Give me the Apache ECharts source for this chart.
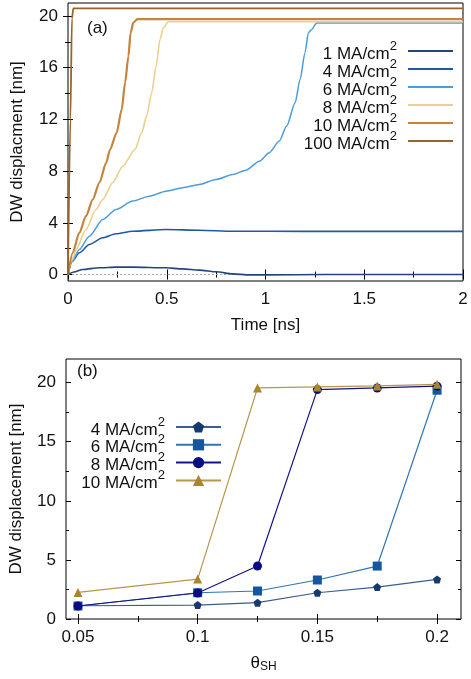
<!DOCTYPE html>
<html>
<head>
<meta charset="utf-8">
<script src="https://cdn.jsdelivr.net/npm/echarts@6/dist/echarts.min.js"></script>
<style>
  html, body { margin: 0; padding: 0; background: #fff; }
  #chart { width: 471px; height: 679px; }
</style>
</head>
<body>
<div id="chart"></div>
<script>
// ---- (a) DW displacement vs time for several current densities ----
const baseT = [0, 2];
const baseV = [0, 0];

const t1 = [0, 0.03, 0.074, 0.159, 0.243, 0.328, 0.496, 0.58, 0.665, 0.749, 0.834, 0.918, 1.0, 1.3, 2];
const v1 = [0, 0.2, 0.39, 0.52, 0.57, 0.57, 0.52, 0.44, 0.34, 0.21, 0.05, -0.03, -0.03, 0, 0];

const t4 = [0, 0.02, 0.057, 0.108, 0.176, 0.243, 0.328, 0.496, 0.665, 0.834, 1.2, 2];
const v4 = [0, 1.0, 1.68, 2.32, 2.84, 3.15, 3.35, 3.48, 3.43, 3.35, 3.34, 3.34];

const t6 = [0, 0.02, 0.057, 0.108, 0.176, 0.243, 0.328, 0.412, 0.496, 0.581, 0.665, 0.749, 0.834, 0.901, 0.969, 1.019, 1.07, 1.107, 1.15, 1.175, 1.2, 1.217, 1.234, 1.259, 2];
const v6 = [0, 1.0, 1.93, 2.97, 4.26, 5.03, 5.68, 6.06, 6.45, 6.71, 6.97, 7.35, 7.74, 8.07, 8.77, 9.42, 10.32, 11.48, 13.28, 15.09, 17.16, 18.7, 18.96, 19.45, 19.45];

const t8 = [0, 0.02, 0.041, 0.091, 0.142, 0.176, 0.226, 0.277, 0.339, 0.373, 0.398, 0.424, 0.446, 0.466, 0.483, 0.508, 2];
const v8 = [0, 1.1, 1.93, 3.48, 5.03, 5.8, 7.1, 8.38, 9.67, 10.96, 12.25, 14.06, 16.12, 18.19, 19.1, 19.55, 19.55];

const t10 = [0, 0.024, 0.057, 0.091, 0.125, 0.159, 0.193, 0.213, 0.246, 0.272, 0.289, 0.306, 0.317, 0.331, 0.351, 2];
const v10 = [0, 1.68, 3.22, 4.51, 5.8, 7.1, 8.64, 9.67, 10.96, 12.77, 14.84, 16.9, 18.7, 19.48, 19.75, 19.75];

const t100 = [0, 0.012, 0.02, 0.027, 2];
const v100 = [0, 12, 19.8, 20.58, 20.58];

const timeTicks = [0, 0.5, 1, 1.5, 2];
const timeMinor = [0.25, 0.75, 1.25, 1.75];
const dispTicksA = [0, 4, 8, 12, 16, 20];
const dispMinorA = [2, 6, 10, 14, 18];

// ---- (b) DW displacement vs spin Hall angle ----
const theta = [0.05, 0.1, 0.125, 0.15, 0.175, 0.2];
const b4 = [1.12, 1.18, 1.38, 2.22, 2.7, 3.35];
const b6 = [1.1, 2.22, 2.37, 3.3, 4.48, 19.36];
const b8 = [1.1, 2.2, 4.48, 19.41, 19.55, 19.7];
const b10 = [2.25, 3.38, 19.55, 19.64, 19.72, 19.86];

const thetaTicks = [0.05, 0.1, 0.15, 0.2];
const thetaMinor = [0.075, 0.125, 0.175];
const dispTicksB = [0, 5, 10, 15, 20];
const dispMinorB = [2.5, 7.5, 12.5, 17.5];

const FONT = "'Liberation Sans', Arial, Helvetica, sans-serif";
const INK = '#111';
const FS = 17;

function zip(a, b) { return a.map((x, i) => [x, b[i]]); }

// main axis with labels + major ticks, same side minor ticks, mirrored ticks opposite
function axisSet(grid, sides, min, max, major, minor, extra) {
  const tickMajor = (vals) => ({ show: true, inside: true, length: 5, customValues: vals, lineStyle: { color: '#000', width: 1 } });
  const tickMinor = (vals) => ({ show: true, inside: true, length: 3, customValues: vals, lineStyle: { color: '#000', width: 1 } });
  const common = { type: 'value', gridIndex: grid, min: min, max: max, splitLine: { show: false }, axisLine: { show: false } };
  return [
    Object.assign({}, common, {
      position: sides[0],
      axisTick: tickMajor(major),
      axisLabel: { show: true, customValues: major, margin: 10, fontFamily: FONT, fontSize: FS, color: INK }
    }, extra || {}),
    Object.assign({}, common, { position: sides[0], axisTick: tickMinor(minor), axisLabel: { show: false } }),
    Object.assign({}, common, { position: sides[1], axisTick: tickMajor(major), axisLabel: { show: false } }),
    Object.assign({}, common, { position: sides[1], axisTick: tickMinor(minor), axisLabel: { show: false } })
  ];
}

const nameStyle = { fontFamily: FONT, fontSize: FS, color: INK };

const xAxes = [].concat(
  axisSet(0, ['bottom', 'top'], 0, 2, timeTicks, timeMinor, {
    name: 'Time [ns]', nameLocation: 'middle', nameGap: 36, nameTextStyle: nameStyle
  }),
  axisSet(1, ['bottom', 'top'], 0.045, 0.21, thetaTicks, thetaMinor, {
    name: '{t|θ}{s|SH}', nameLocation: 'middle', nameGap: 36,
    nameTextStyle: Object.assign({}, nameStyle, {
      rich: {
        t: { fontFamily: FONT, fontSize: FS, color: INK, lineHeight: 18, verticalAlign: 'top' },
        s: { fontFamily: FONT, fontSize: 12, color: INK, lineHeight: 12, verticalAlign: 'bottom', padding: [7, 0, 0, 0] }
      }
    })
  })
);

const yAxes = [].concat(
  axisSet(0, ['left', 'right'], -0.5, 21, dispTicksA, dispMinorA, {
    name: 'DW displacment [nm]', nameLocation: 'middle', nameGap: 42, nameTextStyle: nameStyle
  }),
  axisSet(1, ['left', 'right'], 0, 22, dispTicksB, dispMinorB, {
    name: 'DW displacement [nm]', nameLocation: 'middle', nameGap: 41, nameTextStyle: nameStyle
  })
);

function timeSeries(name, t, v, color, width, z) {
  return {
    name: name, type: 'line', xAxisIndex: 0, yAxisIndex: 0,
    data: zip(t, v), symbol: 'none', smooth: 0.25, smoothMonotone: 'x',
    lineStyle: { color: color, width: width }, itemStyle: { color: color },
    z: z, animation: false
  };
}

const pentagon = 'path://M0,-10 L9.51,-3.09 L5.88,8.09 L-5.88,8.09 L-9.51,-3.09 Z';

function thetaSeries(name, v, color, lineColor, symbol, size, z) {
  return {
    name: name, type: 'line', xAxisIndex: 4, yAxisIndex: 4,
    data: zip(theta, v), symbol: symbol, symbolSize: size, showSymbol: true,
    lineStyle: { color: lineColor, width: 1.2 }, itemStyle: { color: color },
    z: z, animation: false
  };
}

const series = [
  {
    name: 'zero', type: 'line', xAxisIndex: 0, yAxisIndex: 0, data: zip(baseT, baseV), symbol: 'none',
    lineStyle: { color: '#a8a8a8', width: 1, type: [2, 2] }, z: 1, animation: false, silent: true
  },
  timeSeries('1 MA/cm2', t1, v1, '#23457f', 1.6, 2),
  timeSeries('4 MA/cm2', t4, v4, '#1d5aa5', 1.6, 3),
  timeSeries('6 MA/cm2', t6, v6, '#4a9cdc', 1.5, 4),
  timeSeries('8 MA/cm2', t8, v8, '#ebcf8c', 1.6, 5),
  timeSeries('10 MA/cm2', t10, v10, '#c4843a', 2.2, 6),
  timeSeries('100 MA/cm2', t100, v100, '#9a6428', 1.8, 7),
  thetaSeries('4 MA/cm2 ', b4, '#173a6e', '#3d5d8f', pentagon, 8, 3),
  thetaSeries('6 MA/cm2 ', b6, '#1457a0', '#2f74b8', 'rect', 9, 4),
  thetaSeries('8 MA/cm2 ', b8, '#0c0c82', '#14148a', 'circle', 9, 5),
  thetaSeries('10 MA/cm2 ', b10, '#a8862c', '#b8964a', 'triangle', 9, 6)
];

// one legend per entry so the line samples stay right-aligned in a column
const supRich = {
  t: { fontFamily: FONT, fontSize: FS, color: INK, lineHeight: 23, verticalAlign: 'bottom' },
  s: { fontFamily: FONT, fontSize: 13, color: INK, lineHeight: 13, verticalAlign: 'top' }
};
function legendFor(name, right, centerY, plainLine) {
  const entry = plainLine ? { name: name, icon: 'rect' } : name;
  return {
    data: [entry], orient: 'vertical', align: 'right', right: right, top: centerY - 11.5,
    padding: 0, itemWidth: 45, itemHeight: plainLine ? 2 : 14, itemGap: 0, selectedMode: false,
    formatter: (n) => '{t|' + n.trim().slice(0, -1) + '}{s|2}',
    textStyle: { rich: supRich, padding: [0, 6, 0, 0] }
  };
}
const legendA = ['1 MA/cm2', '4 MA/cm2', '6 MA/cm2', '8 MA/cm2', '10 MA/cm2', '100 MA/cm2'];
const legendB = ['4 MA/cm2 ', '6 MA/cm2 ', '8 MA/cm2 ', '10 MA/cm2 '];
const legends = []
  .concat(legendA.map((n, i) => legendFor(n, 18, 51 + i * 18, true)))
  .concat(legendB.map((n, i) => legendFor(n, 249, 427 + i * 17.8, false)));

const chart = echarts.init(document.getElementById('chart'), null, { renderer: 'canvas' });
chart.setOption({
  backgroundColor: '#fff',
  animation: false,
  grid: [
    { left: 68, right: 8, top: 3, height: 278, show: true, borderColor: '#000', borderWidth: 1, backgroundColor: 'transparent' },
    { left: 65, right: 10, top: 359, height: 260, show: true, borderColor: '#000', borderWidth: 1, backgroundColor: 'transparent' }
  ],
  xAxis: xAxes,
  yAxis: yAxes,
  legend: legends,
  graphic: [
    { type: 'text', left: 87, top: 20, style: { text: '(a)', font: FS + 'px ' + FONT, fill: INK } },
    { type: 'text', left: 77, top: 363, style: { text: '(b)', font: FS + 'px ' + FONT, fill: INK } }
  ],
  series: series
});
</script>
</body>
</html>
